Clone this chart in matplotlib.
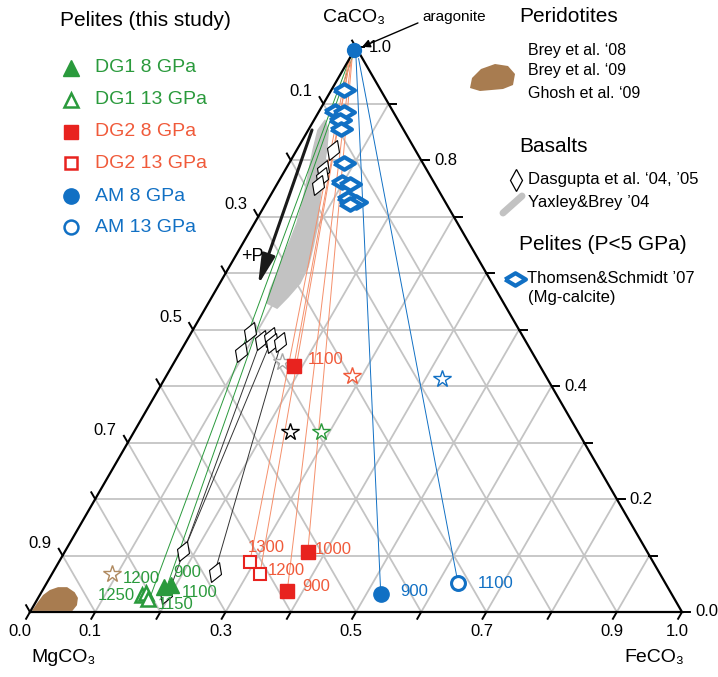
import numpy as np
import matplotlib.pyplot as plt
from matplotlib.patches import Polygon
from matplotlib.markers import MarkerStyle
from matplotlib.transforms import Affine2D

plt.rcParams['font.family'] = ['Liberation Sans', 'DejaVu Sans']

# colours
GREEN = '#2a9a3c'
RED = '#e8231f'
ORANGE = '#f05a3a'
ORANGE_LINE = '#f5906c'
BLUE = '#1170c4'
GRID = '#c4c4c4'
BROWN = '#a87c50'
BAND = '#c2c2c2'

# ---- data: molar fractions of FeCO3 (fe) and CaCO3 (ca); MgCO3 = 1 - fe - ca
arag_fe = [0.0]
arag_ca = [0.995]

# this study
dg1_8_fe = [0.183, 0.192]
dg1_8_ca = [0.044, 0.048]
dg1_8_lab = ['1100', '900']

dg1_13_fe = [0.157, 0.161, 0.170]
dg1_13_ca = [0.030, 0.034, 0.023]
dg1_13_lab = ['1250', '1200', '1150']

dg2_8_fe = [0.187, 0.373, 0.376]
dg2_8_ca = [0.435, 0.106, 0.037]
dg2_8_lab = ['1100', '1000', '900']

dg2_13_fe = [0.293, 0.319]
dg2_13_ca = [0.088, 0.067]
dg2_13_lab = ['1300', '1200']

am_8_fe = [0.522]
am_8_ca = [0.032]
am_8_lab = ['900']

am_13_fe = [0.631]
am_13_ca = [0.051]
am_13_lab = ['1100']

# tie lines (bottom end -> top end)
green_bot_fe = [0.171, 0.189]
green_bot_ca = [0.027, 0.037]
green_top_fe = [0.0, 0.003]
green_top_ca = [0.982, 0.984]

orange_bot_fe = [0.187, 0.373, 0.376, 0.293, 0.319]
orange_bot_ca = [0.435, 0.106, 0.037, 0.088, 0.067]
orange_top_fe = [0.003, 0.004, 0.004, 0.0, 0.002]
orange_top_ca = [0.974, 0.980, 0.977, 0.977, 0.977]

blue_bot_fe = [0.522, 0.631]
blue_bot_ca = [0.032, 0.051]
blue_top_fe = [0.009, 0.014]
blue_top_ca = [0.982, 0.980]

black_bot_fe = [0.182, 0.248, 0.197]
black_bot_ca = [0.106, 0.071, 0.027]
black_top_fe = [0.129, 0.147, 0.113]
black_top_ca = [0.485, 0.476, 0.485]

# literature
das_fe = [0.056, 0.058, 0.063, 0.064, 0.090, 0.094, 0.114, 0.125, 0.133, 0.145, 0.181, 0.248, 0.193]
das_ca = [0.818, 0.782, 0.770, 0.756, 0.496, 0.460, 0.481, 0.487, 0.476, 0.478, 0.108, 0.071, 0.032]

ts_fe = [0.020, 0.024, 0.039, 0.040, 0.050, 0.084, 0.098, 0.112, 0.121, 0.136, 0.130]
ts_ca = [0.924, 0.887, 0.885, 0.871, 0.855, 0.795, 0.761, 0.758, 0.733, 0.727, 0.722]

star_fe = [0.092, 0.165, 0.285, 0.426, 0.240, 0.287]
star_ca = [0.067, 0.442, 0.418, 0.412, 0.319, 0.319]
star_col = ['#b08a60', '#a8a8a8', ORANGE, BLUE, 'black', GREEN]

# Yaxley & Brey field outline
yb_fe = [0.017, 0.015, 0.025, 0.041, 0.054, 0.065, 0.070, 0.074, 0.079, 0.083, 0.090,
         0.110, 0.117, 0.123, 0.121, 0.111, 0.100, 0.080, 0.061, 0.044, 0.031]
yb_ca = [0.871, 0.853, 0.818, 0.770, 0.729, 0.689, 0.658, 0.628, 0.600, 0.570, 0.547,
         0.538, 0.558, 0.582, 0.611, 0.646, 0.681, 0.729, 0.777, 0.823, 0.853]

# peridotite field outline
per_fe = [0.002, 0.003, 0.005, 0.011, 0.021, 0.035, 0.051, 0.061, 0.066, 0.064]
per_ca = [0.002, 0.016, 0.030, 0.039, 0.044, 0.044, 0.035, 0.025, 0.012, 0.002]

# axis tick labels
bot_vals = [0.0, 0.1, 0.3, 0.5, 0.7, 0.9, 1.0]
right_vals = [0.0, 0.2, 0.4, 0.8, 1.0]
left_vals = [0.1, 0.3, 0.5, 0.7, 0.9]

H = np.sqrt(3) / 2


def tern(fe, ca):
    fe = np.asarray(fe, dtype=float)
    ca = np.asarray(ca, dtype=float)
    return fe + ca / 2, ca * H


def pix(px, py):
    # figure fraction from pixel position (for legend/layout)
    return px / 718, 1 - py / 677


fig = plt.figure(figsize=(7.18, 6.77), dpi=100)
ax = fig.add_axes([0, 0, 1, 1])
ax.set_xlim(-30 / 652, 688 / 652)
ax.set_ylim(-65 / 652, 612 / 652)
ax.axis('off')

# grid
for f in np.arange(1, 10) / 10:
    for fe, ca in [([0, 1 - f], [f, f]), ([f, f], [0, 1 - f]), ([1 - f, 0], [0, 1 - f])]:
        x, y = tern(fe, ca)
        ax.plot(x, y, color=GRID, lw=1.3, zorder=1)

# frame
ax.plot([0, 1, 0.5, 0], [0, 0, H, 0], color='black', lw=1.6, zorder=8, solid_joinstyle='miter')

# ticks
L = 0.012
for f in np.arange(0, 11) / 10:
    x, y = tern(f, 0)
    ax.plot([x, x - 0.5 * L], [y, y - H * L], color='black', lw=1.4, zorder=8)
    x, y = tern(1 - f, f)
    ax.plot([x, x + L], [y, y], color='black', lw=1.4, zorder=8)
    x, y = tern(0, 1 - f)
    ax.plot([x, x - 0.5 * L], [y, y + H * L], color='black', lw=1.4, zorder=8)

for v in bot_vals:
    x, y = tern(v, 0)
    dx = -10 / 652 if v == 0 else -5 / 652
    ax.text(x + dx, -20 / 652, f'{v:.1f}', ha='center', va='center', fontsize=12)
for v in right_vals:
    x, y = tern(1 - v, v)
    ax.text(x + 13 / 652, y, f'{v:.1f}', ha='left', va='center', fontsize=12)
for v in left_vals:
    x, y = tern(0, 1 - v)
    ax.text(x - 11 / 652, y + 12.5 / 652, f'{v:.1f}', ha='right', va='center', fontsize=12)

ax.text(*pix(354, 17), 'CaCO\u2083', transform=fig.transFigure, ha='center', va='center', fontsize=14)
ax.text(*pix(64, 657), 'MgCO\u2083', transform=fig.transFigure, ha='center', va='center', fontsize=14)
ax.text(*pix(654, 657), 'FeCO\u2083', transform=fig.transFigure, ha='center', va='center', fontsize=14)

# fields
x, y = tern(per_fe, per_ca)
ax.add_patch(Polygon(np.column_stack([x, y]), closed=True, fc=BROWN, ec='none', zorder=2))
x, y = tern(yb_fe, yb_ca)
ax.add_patch(Polygon(np.column_stack([x, y]), closed=True, fc=BAND, ec=BAND, lw=1,
                     joinstyle='round', zorder=2))

# tie lines
for bf, bc, tf, tc, col in [(green_bot_fe, green_bot_ca, green_top_fe, green_top_ca, GREEN),
                            (orange_bot_fe, orange_bot_ca, orange_top_fe, orange_top_ca, ORANGE_LINE),
                            (blue_bot_fe, blue_bot_ca, blue_top_fe, blue_top_ca, BLUE),
                            (black_bot_fe, black_bot_ca, black_top_fe, black_top_ca, '#333333')]:
    for i in range(len(bf)):
        x, y = tern([bf[i], tf[i]], [bc[i], tc[i]])
        ax.plot(x, y, color=col, lw=0.7, zorder=3)

# literature markers
dmark = MarkerStyle('d', transform=Affine2D().rotate_deg(-20))
x, y = tern(das_fe, das_ca)
ax.plot(x, y, ls='none', marker=dmark, ms=10.5, mfc='white', mec='black', mew=0.8, zorder=4)

tsmark = [(-1, 0), (0, 0.6), (1, 0), (0, -0.6), (-1, 0)]
x, y = tern(ts_fe, ts_ca)
ax.plot(x, y, ls='none', marker=tsmark, ms=15, mfc='white', mec=BLUE, mew=3.0, zorder=5)

for fe, ca, col in zip(star_fe, star_ca, star_col):
    x, y = tern(fe, ca)
    ax.plot(x, y, ls='none', marker='*', ms=13, mfc='white', mec=col, mew=1.0, zorder=4)

# this study
x, y = tern(arag_fe, arag_ca)
ax.plot(x, y, ls='none', marker='o', ms=10, color=BLUE, zorder=9)

x, y = tern(dg1_13_fe, dg1_13_ca)
ax.plot(x, y, ls='none', marker='^', ms=9.5, mfc='white', mec=GREEN, mew=1.8, zorder=6)
x, y = tern(dg1_8_fe, dg1_8_ca)
ax.plot(x, y, ls='none', marker='^', ms=11, color=GREEN, zorder=6)
x, y = tern(dg2_8_fe, dg2_8_ca)
ax.plot(x, y, ls='none', marker='s', ms=10, color=RED, zorder=6)
x, y = tern(dg2_13_fe, dg2_13_ca)
ax.plot(x, y, ls='none', marker='s', ms=9, mfc='white', mec=RED, mew=1.5, zorder=6)
x, y = tern(am_8_fe, am_8_ca)
ax.plot(x, y, ls='none', marker='o', ms=11, color=BLUE, zorder=6)
x, y = tern(am_13_fe, am_13_ca)
ax.plot(x, y, ls='none', marker='o', ms=10, mfc='white', mec=BLUE, mew=2.2, zorder=6)

# temperature labels (offsets in points)
label_sets = [
    (dg1_8_fe, dg1_8_ca, dg1_8_lab, GREEN, [(13, -3.6, 'left'), (1.5, 8.6, 'left')]),
    (dg1_13_fe, dg1_13_ca, dg1_13_lab, GREEN, [(-5, 0, 'right'), (-16.5, 10, 'left'), (6.5, -4.3, 'left')]),
    (dg2_8_fe, dg2_8_ca, dg2_8_lab, ORANGE, [(10, 5, 'left'), (5, 2, 'left'), (11, 3, 'left')]),
    (dg2_13_fe, dg2_13_ca, dg2_13_lab, ORANGE, [(-1.5, 11, 'left'), (6, 3, 'left')]),
    (am_8_fe, am_8_ca, am_8_lab, BLUE, [(14, 1.5, 'left')]),
    (am_13_fe, am_13_ca, am_13_lab, BLUE, [(14, 0, 'left')]),
]
for fe, ca, labs, col, offs in label_sets:
    for i in range(len(fe)):
        x, y = tern(fe[i], ca[i])
        ox, oy, ha = offs[i]
        ax.annotate(labs[i], (x, y), xytext=(ox, oy), textcoords='offset points',
                    ha=ha, va='center', fontsize=12, color=col, zorder=10)

# aragonite arrow
x, y = tern(arag_fe, arag_ca)
ax.annotate('aragonite', (x[0], y[0]), xytext=((422 - 30) / 652, (612 - 17) / 652),
            ha='left', va='center', fontsize=11,
            arrowprops=dict(arrowstyle='-|>', color='black', lw=1, shrinkA=1, shrinkB=6,
                            mutation_scale=12, relpos=(0, 0.2)))

# pressure arrow
ax.annotate('', xy=(0.3497, 0.5015), xytext=(0.4325, 0.7393),
            arrowprops=dict(arrowstyle='-|>,head_length=0.9,head_width=0.2', lw=2.2,
                            color='#1a1a1a', mutation_scale=20, shrinkA=0, shrinkB=0))
ax.text(0.3405, 0.546, '+P', ha='center', va='center', fontsize=13)

# ---- legend: this study
tf = fig.transFigure
ax.text(*pix(60, 20), 'Pelites (this study)', transform=tf, ha='left', va='center', fontsize=15)
leg = [('DG1 8 GPa', GREEN, GREEN, '^', 11, GREEN),
       ('DG1 13 GPa', GREEN, 'white', '^', 9.5, GREEN),
       ('DG2 8 GPa', RED, RED, 's', 9.5, ORANGE),
       ('DG2 13 GPa', RED, 'white', 's', 9, ORANGE),
       ('AM 8 GPa', BLUE, BLUE, 'o', 11, BLUE),
       ('AM 13 GPa', BLUE, 'white', 'o', 10, BLUE)]
rows = [68, 100, 132, 163, 196, 227]
for (txt, ec, fc, mk, ms, tc), py in zip(leg, rows):
    ax.plot(*pix(71, py), transform=tf, marker=mk, ms=ms, mfc=fc, mec=ec,
            mew=1.8 if fc == 'white' else 1, ls='none', clip_on=False)
    ax.text(*pix(95, py), txt, transform=tf, ha='left', va='center', fontsize=14, color=tc)

# ---- legend: literature
ax.text(*pix(519, 16), 'Peridotites', transform=tf, ha='left', va='center', fontsize=15)
for txt, py in [("Brey et al. \u201808", 50), ("Brey et al. \u201809", 71), ("Ghosh et al. \u201809", 93)]:
    ax.text(*pix(528, py), txt, transform=tf, ha='left', va='center', fontsize=11.5)
blob = [(470, 88), (472, 78), (481, 69), (495, 64), (508, 66), (515, 74), (513, 85), (503, 89), (480, 91)]
ax.add_patch(Polygon([pix(px, py) for px, py in blob], closed=True, transform=tf,
                     fc=BROWN, ec='none', clip_on=False))

ax.text(*pix(519, 147), 'Basalts', transform=tf, ha='left', va='center', fontsize=15)
ax.plot(*pix(516, 180), transform=tf, marker='d', ms=11, mfc='white', mec='black', mew=0.9,
        ls='none', clip_on=False)
ax.text(*pix(528, 180), "Dasgupta et al. \u201804, \u201905", transform=tf, ha='left', va='center', fontsize=12)
p1 = pix(503, 213)
p2 = pix(522, 196)
ax.plot([p1[0], p2[0]], [p1[1], p2[1]], transform=tf, color=BAND, lw=5,
        solid_capstyle='round', clip_on=False)
ax.text(*pix(528, 203), "Yaxley&Brey \u201904", transform=tf, ha='left', va='center', fontsize=12)

ax.text(*pix(519, 245), 'Pelites (P<5 GPa)', transform=tf, ha='left', va='center', fontsize=15)
ax.plot(*pix(515, 279), transform=tf, marker=tsmark, ms=15, mfc='white', mec=BLUE, mew=3.0,
        ls='none', clip_on=False)
ax.text(*pix(527, 278), "Thomsen&Schmidt \u201907", transform=tf, ha='left', va='center', fontsize=12)
ax.text(*pix(528, 298), '(Mg-calcite)', transform=tf, ha='left', va='center', fontsize=12)

fig.savefig('out.png', dpi=100)
